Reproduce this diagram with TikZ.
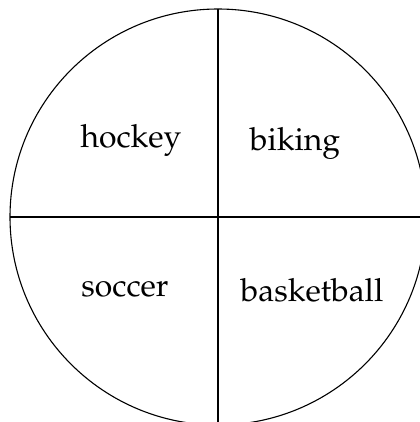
\documentclass[tikz,border=0pt]{standalone}
\usepackage[T1]{fontenc}
\usepackage{mathpazo}
\usepackage{tikz}

\begin{document}
\begin{tikzpicture}[x=1bp,y=1bp,line width=1.1bp,every node/.style={font=\fontsize{32}{38}\selectfont,anchor=base,inner sep=0pt}]
\useasboundingbox[clip] (0,0) rectangle (420,422);
\coordinate (O) at (218,205);
\coordinate (N) at (218,413);
\coordinate (S) at (218,-3);
\coordinate (W) at (10,205);
\coordinate (E) at (426,205);
\draw (O) circle (208);
\draw (N) -- (S);
\draw (W) -- (E);
\node (hockey) at (131,275) {hockey};
\node (biking) at (295,272) {biking};
\node (soccer) at (125,126) {soccer};
\node (basketball) at (312,121) {basketball};
\end{tikzpicture}
\end{document}
